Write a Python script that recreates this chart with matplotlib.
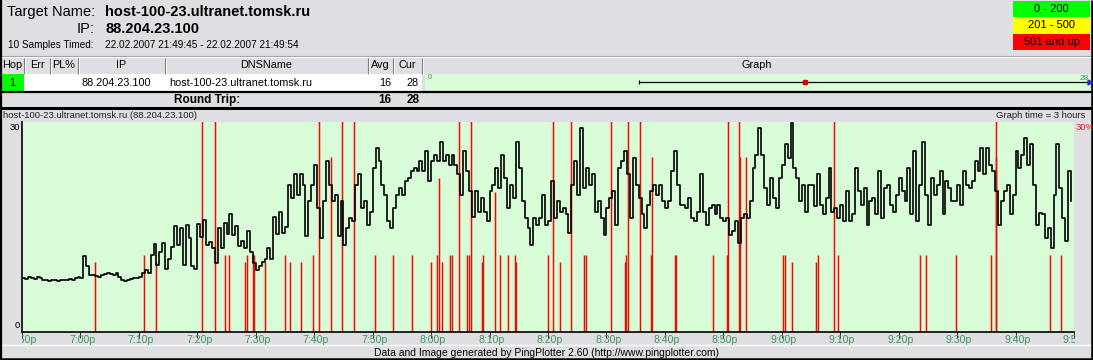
import matplotlib
matplotlib.use("Agg")
import matplotlib.pyplot as plt
from matplotlib.patches import Rectangle
import numpy as np

plt.rcParams['font.family'] = ['Liberation Sans', 'DejaVu Sans']

# ---------------- DATA ----------------
target_name = "host-100-23.ultranet.tomsk.ru"
target_ip = "88.204.23.100"
samples_label = "10 Samples Timed:"
samples_range = "22.02.2007 21:49:45 - 22.02.2007 21:49:54"
columns = ["Hop", "Err", "PL%", "IP", "DNSName", "Avg", "Cur", "Graph"]
hop_row = ["1", "", "", "88.204.23.100", "host-100-23.ultranet.tomsk.ru", "16", "28"]
round_trip_avg = "16"
round_trip_cur = "28"
legend_labels = ["0 - 200", "201 - 500", "501 and up"]
legend_colors = ["#00FF00", "#FFFF00", "#FF0000"]
hop_min, hop_avg, graph_scale = 9, 16, 28

chart_title = "host-100-23.ultranet.tomsk.ru (88.204.23.100)"
graph_time = "Graph time = 3 hours"
credit = "Data and Image generated by PingPlotter 2.60 (http://www.pingplotter.com)"
time_labels = ["6:50p", "7:00p", "7:10p", "7:20p", "7:30p", "7:40p", "7:50p",
               "8:00p", "8:10p", "8:20p", "8:30p", "8:40p", "8:50p", "9:00p",
               "9:10p", "9:20p", "9:30p", "9:40p", "9:50p"]
sample_step_min = 0.5   # one value per 30 s

# latency (ms), 6:50p - 7:35p
latency_a = [7.7, 7.6, 7.8, 7.7, 7.6, 7.8, 7.7, 7.4, 7.5, 7.3,
             7.4, 7.5, 7.3, 7.4, 7.5, 7.4, 7.6, 7.5, 7.7, 7.8,
             7.7, 10.8, 9.4, 8.2, 8.1, 8.0, 7.9, 8.2, 8.3, 8.5,
             8.3, 8.1, 8.4, 7.8, 7.5, 7.3, 7.5, 7.6, 7.7, 7.7,
             7.9, 8.5, 8.8, 8.4, 11.0, 12.6, 9.6, 11.5, 12.7, 9.0,
             10.5, 12.2, 15.2, 12.5, 14.8, 9.6, 15.3, 13.5, 9.4, 9.0,
             15.5, 13.6, 16.0, 12.5, 12.8, 12.0, 9.8, 14.8, 12.0, 15.6,
             14.0, 16.8, 13.8, 15.2, 12.3, 13.0, 12.0, 14.5, 11.5, 9.8,
             8.8, 9.5, 10.0, 10.4, 12.0, 10.5, 16.5, 14.0, 17.2, 14.2]
# 7:35p - 8:20p
latency_b = [15.0, 21.0, 19.1, 22.5, 19.6, 22.5, 21.0, 13.7, 18.7, 21.0,
             23.9, 17.7, 13.4, 18.7, 24.4, 21.0, 18.7, 19.6, 13.7, 18.7,
             12.5, 14.9, 16.3, 15.8, 21.0, 22.5, 17.7, 18.7, 15.3, 17.2,
             23.4, 26.3, 24.4, 21.0, 19.6, 15.8, 14.9, 17.7, 19.6, 20.6,
             19.6, 21.5, 22.0, 23.0, 23.4, 23.0, 24.4, 23.0, 25.8, 21.5,
             24.4, 25.3, 24.4, 27.2, 24.4, 25.3, 23.9, 25.3, 23.9, 22.5,
             19.6, 25.8, 23.0, 20.1, 16.5, 20.1, 17.2, 19.1, 17.2, 15.8,
             20.1, 21.0, 23.4, 20.6, 25.3, 22.0, 17.7, 21.0, 19.1, 27.2,
             23.4, 18.7, 16.3, 14.9, 12.5, 16.3, 15.3, 16.3, 19.6, 15.3]
# 8:20p - 9:05p
latency_c = [15.8, 21.5, 16.3, 18.7, 17.2, 17.7, 16.8, 14.1, 21.0, 24.4,
             19.6, 29.1, 20.6, 23.4, 21.0, 22.5, 17.2, 18.7, 16.3, 13.9,
             17.7, 19.1, 20.1, 15.3, 23.4, 24.4, 25.8, 22.5, 16.3, 24.9,
             21.0, 19.1, 16.8, 14.9, 18.2, 20.1, 21.0, 19.6, 21.0, 18.7,
             17.7, 18.7, 23.0, 25.8, 21.0, 18.2, 18.2, 17.7, 19.1, 16.3,
             15.8, 17.2, 22.5, 17.2, 15.3, 17.7, 18.2, 16.8, 18.2, 16.3,
             15.8, 16.3, 13.9, 14.4, 15.8, 12.7, 16.3, 16.8, 16.3, 18.7,
             23.4, 25.3, 29.1, 25.3, 20.6, 18.2, 22.0, 19.1, 17.7, 22.0,
             23.9, 26.8, 24.9, 29.9, 23.4, 22.0, 18.7, 21.0, 17.2, 21.0]
# 9:05p - 9:50p
latency_d = [21.0, 18.0, 22.5, 18.2, 16.8, 19.1, 23.4, 17.2, 17.7, 16.3,
             18.2, 15.8, 20.1, 15.8, 16.8, 23.4, 20.1, 18.2, 20.6, 15.3,
             18.7, 19.1, 16.8, 23.0, 16.3, 20.6, 21.0, 18.2, 17.2, 19.6,
             22.0, 20.1, 18.7, 23.4, 16.8, 25.8, 15.8, 21.0, 27.2, 19.6,
             15.3, 22.0, 19.6, 21.0, 23.0, 16.8, 21.5, 20.6, 18.7, 18.7,
             21.0, 18.2, 23.0, 21.0, 20.6, 21.5, 24.4, 23.0, 26.3, 22.5,
             26.3, 23.9, 23.0, 20.1, 15.3, 18.7, 20.1, 21.0, 16.8, 19.6,
             25.8, 23.4, 25.3, 27.7, 23.9, 26.8, 21.0, 15.3, 17.0, 16.8,
             13.4, 14.9, 12.0, 19.6, 26.8, 20.6, 16.3, 13.0, 23.0, 18.7]

# packet loss events: minutes after 6:50p, and loss percent
loss_min = [12.53, 20.9, 22.96, 30.82, 32.94, 34.75, 35.38, 38.24, 38.58, 39.44,
            39.71, 41.59, 44.96, 45.86, 47.74, 49.79, 50.82, 52.82, 54.82, 56.8,
            60.39, 63.47, 66.79, 69.97, 70.99, 71.33, 71.91, 73.21, 73.56, 74.75,
            76.12, 76.41, 76.8, 78.75, 78.85, 80.91, 81.83, 83.2, 84.32, 84.5,
            90.03, 90.82, 92.02, 93.9, 96.19, 96.58, 100.74, 103.13, 103.37, 103.71,
            105.76, 107.64, 107.81, 111.68, 111.97, 118.17, 120.63, 120.8, 122.62, 122.79,
            123.81, 130.14, 130.6, 131.74, 135.85, 136.24, 138.97, 139.61, 153.73, 154.7,
            159.88, 165.86, 166.61, 166.72, 175.85, 177.83]
loss_pct = [10, 11, 10, 100, 100, 11, 11, 10, 11, 11,
            11, 10, 11, 10, 10, 11, 100, 25, 100, 100,
            11, 11, 11, 10, 11, 22, 10, 11, 11, 100,
            11, 11, 100, 10, 11, 20, 11, 11, 11, 10,
            11, 100, 10, 100, 11, 11, 100, 10, 11, 100,
            100, 11, 25, 11, 11, 11, 11, 100, 100, 25,
            25, 11, 11, 10, 10, 11, 100, 11, 11, 11,
            11, 11, 25, 100, 11, 11]

# ---------------- STYLE ----------------
W, H = 1093, 360
GRAY = "#DFDFE3"
PLOT_GREEN = "#D8FCD8"
LABEL_GREEN = "#3A9A5A"
LOSS_RED = "#C41E0C"
LOSS_HALO = "#FBE3CC"

fig = plt.figure(figsize=(W / 100, H / 100), dpi=100)
fig.patch.set_facecolor(GRAY)

bg = fig.add_axes([0, 0, 1, 1])
bg.set_xlim(0, W)
bg.set_ylim(H, 0)
bg.axis('off')


def px_axes(x0, y0, x1, y1):
    return fig.add_axes([x0 / W, 1 - y1 / H, (x1 - x0) / W, (y1 - y0) / H])


def rect(x0, y0, x1, y1, color, z=1):
    bg.add_patch(Rectangle((x0, y0), x1 - x0, y1 - y0, facecolor=color,
                           edgecolor='none', zorder=z))


# ---- header ----
bg.text(95, 12, "Target Name:", ha='right', va='center', fontsize=10.5)
bg.text(105, 12, target_name, ha='left', va='center', fontsize=10.5, weight='bold')
bg.text(95, 29, "IP:", ha='right', va='center', fontsize=10.5)
bg.text(105, 29, target_ip, ha='left', va='center', fontsize=10.5, weight='bold')
bg.text(8, 45.5, samples_label, ha='left', va='center', fontsize=7.2)
bg.text(105, 45.5, samples_range, ha='left', va='center', fontsize=7.2)

for k, (lab, col) in enumerate(zip(legend_labels, legend_colors)):
    y0 = 1 + 16.5 * k
    rect(1013, y0, 1090, y0 + 15.5, col, z=2)
    bg.text(1051.5, y0 + 8, lab, ha='center', va='center', fontsize=8, zorder=3)

# ---- hop table ----
col_edges = [0, 24, 50, 78, 165, 368, 393, 422, 1091]
bg.hlines(56, 0, 1091, color='#A0A0A0', lw=0.8)
bg.hlines(57, 0, 1091, color='white', lw=0.8)
for i, name in enumerate(columns):
    x0, x1 = col_edges[i], col_edges[i + 1]
    if name == "Hop":
        bg.text(2, 65.5, name, ha='left', va='center', fontsize=7.8)
    else:
        bg.text((x0 + x1) / 2, 65.5, name, ha='center', va='center', fontsize=7.8)
for xe in col_edges[1:-1]:
    bg.vlines(xe, 57.5, 73.5, color='#808080', lw=0.8)
    bg.vlines(xe + 1, 57.5, 73.5, color='white', lw=0.6)

rect(0, 74, 422, 90.5, 'white')
rect(2, 74, 24, 90.5, '#00FF00', z=2)
rect(425, 74, 1090, 90.5, PLOT_GREEN)
bg.text(12, 82.5, hop_row[0], ha='center', va='center', fontsize=7.8, zorder=3)
bg.text(81, 82.5, hop_row[3], ha='left', va='center', fontsize=7.8)
bg.text(169, 82.5, hop_row[4], ha='left', va='center', fontsize=7.8)
bg.text(391, 82.5, hop_row[5], ha='right', va='center', fontsize=7.8)
bg.text(419, 82.5, hop_row[6], ha='right', va='center', fontsize=7.8)

gax = px_axes(425, 74, 1090, 90.5)
gax.set_xlim(0, graph_scale)
gax.set_ylim(0, 1)
gax.axis('off')
gax.hlines(0.5, hop_min, graph_scale, color='black', lw=0.9)
gax.vlines(hop_min, 0.38, 0.62, color='black', lw=0.9)
gax.plot([hop_avg], [0.5], marker='s', color='#E00000', ms=2.2, lw=0)
gax.plot([graph_scale], [0.5], marker='>', color='#2030C0', ms=3.5, lw=0, clip_on=False)
gax.text(0.12, 0.78, "0", color=LABEL_GREEN, fontsize=5.5, ha='left', va='center')
gax.text(graph_scale - 0.05, 0.7, str(graph_scale), color=LABEL_GREEN, fontsize=6,
         ha='right', va='center')

bg.hlines(91.5, 0, 1093, color='black', lw=1.6)
bg.text(207, 100, "Round Trip:", ha='center', va='center', fontsize=8.5, weight='bold')
bg.text(391, 100, round_trip_avg, ha='right', va='center', fontsize=8.5, weight='bold')
bg.text(420, 100, round_trip_cur, ha='right', va='center', fontsize=8.5, weight='bold')
bg.hlines(108, 0, 1093, color='black', lw=2.2)

# ---- chart header strip ----
bg.text(3, 116, chart_title, ha='left', va='center', fontsize=6.8, color='#202020')
bg.text(1085, 116, graph_time, ha='right', va='center', fontsize=6.8, color='#202020')

# ---- chart ----
latency = np.array(latency_a + latency_b + latency_c + latency_d)
t = np.arange(len(latency)) * sample_step_min
total_min = (len(time_labels) - 1) * 10

ax2 = px_axes(22, 122, 1074, 332)   # loss layer (behind)
ax2.set_xlim(0, total_min)
ax2.set_ylim(0, 30)
ax2.set_facecolor(PLOT_GREEN)
for s in ax2.spines.values():
    s.set_visible(False)
ax2.set_xticks([])
ax2.set_yticks([])
ax2.vlines(loss_min, 0, loss_pct, color=LOSS_HALO, lw=2.6)
ax2.vlines(loss_min, 0, loss_pct, color=LOSS_RED, lw=1.05)

ax = px_axes(22, 122, 1074, 332)
ax.patch.set_visible(False)
ax.set_xlim(0, total_min)
ax.set_ylim(0, 30)
ax.step(t, latency, where='post', color='black', lw=1.2)
ax.spines['top'].set_visible(False)
ax.spines['right'].set_visible(False)
ax.spines['left'].set_linewidth(1.2)
ax.spines['bottom'].set_linewidth(1.2)
ax.set_yticks([])
tick_pos = [10 * k for k in range(len(time_labels))]
ax.set_xticks(tick_pos)
ax.set_xticklabels([])
ax.tick_params(axis='x', length=4, width=0.7, color='#303030', direction='out')

bg.text(20, 128, "30", ha='right', va='center', fontsize=6.8)
bg.text(20, 326, "0", ha='right', va='center', fontsize=6.8)
bg.text(1076, 128, "30%", ha='left', va='center', fontsize=6.8, color='#E02020')

lab = px_axes(22, 333, 1075, 345)
lab.set_xlim(0, total_min * (1053 / 1052))
lab.set_ylim(0, 1)
lab.axis('off')
for pos, txt in zip(tick_pos, time_labels):
    lab.text(pos + 0.3, 0.45, txt, ha='center', va='center', fontsize=7.6,
             color=LABEL_GREEN, clip_on=True)

# ---- footer ----
bg.hlines(344.5, 0, 1091, color='white', lw=1.0)
bg.text(546, 353, credit, ha='center', va='center', fontsize=7.5)

# ---- outer border ----
bg.vlines(0.8, 0, H, color='black', lw=1.6)
bg.vlines(W - 1.2, 0, H, color='black', lw=1.8)
bg.hlines(H - 1.2, 0, W, color='black', lw=1.8)

fig.savefig("out.png", dpi=100, facecolor=fig.get_facecolor())
